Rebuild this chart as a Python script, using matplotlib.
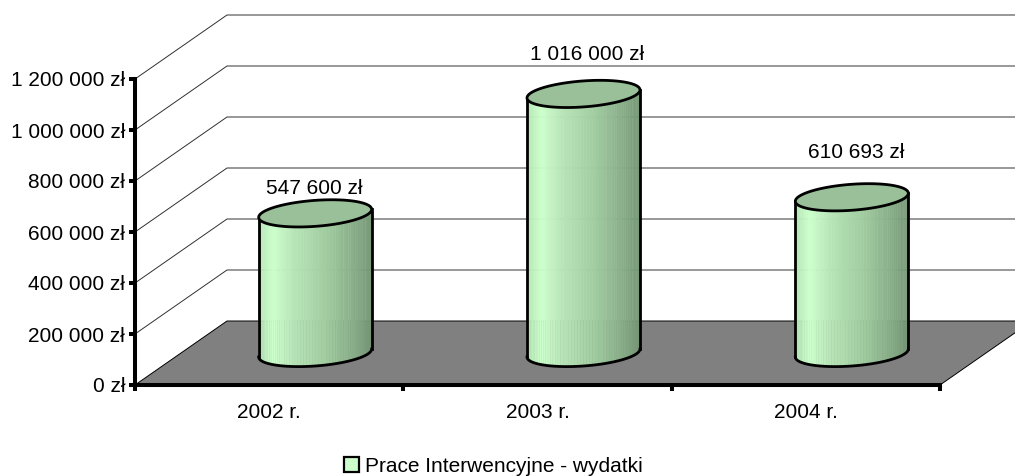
import numpy as np
import matplotlib.pyplot as plt
from matplotlib.colors import LinearSegmentedColormap
from matplotlib.patches import Patch, Polygon

categories = ['2002 r.', '2003 r.', '2004 r.']
values = [547600, 1016000, 610693]
value_labels = ['547 600 zł', '1 016 000 zł', '610 693 zł']
y_ticks = [0, 200000, 400000, 600000, 800000, 1000000, 1200000]
y_tick_labels = ['0 zł', '200 000 zł', '400 000 zł', '600 000 zł', '800 000 zł',
                 '1 000 000 zł', '1 200 000 zł']
series_name = 'Prace Interwencyjne - wydatki'

# label offsets above the cylinder top, pixels (x, y)
label_offsets = [(-1, 25), (4, 39), (4, 45)]

W, H = 1015, 476
plt.rcParams['font.family'] = ['Liberation Sans', 'DejaVu Sans']
FONT = 15

fig = plt.figure(figsize=(W / 100, H / 100), dpi=100)
ax = fig.add_axes([135 / W, (H - 385) / H, 805 / W, 306 / H])
ax.set_xlim(0, 3)
ax.set_ylim(0, 1200000)

# one pixel in data units
px_x = 3 / 805
px_y = 1200000 / 306
depth_x = 92 * px_x
depth_y = 64 * px_y

# floor and grid lines of the fake 3d box
floor = Polygon([(0, 0), (depth_x, depth_y), (3 + depth_x, depth_y), (3, 0)],
                closed=True, facecolor='#808080', edgecolor='black', lw=0.7,
                clip_on=False, zorder=1)
ax.add_patch(floor)
for v in y_ticks[1:]:
    ax.plot([0, depth_x, 3 + depth_x], [v, v + depth_y, v + depth_y],
            color='#303030', lw=0.7, clip_on=False, zorder=1)

body_cmap = LinearSegmentedColormap.from_list(
    'body', [(0, '#b4e6b4'), (0.13, '#ccffcc'), (0.3, '#b9e6b9'),
             (0.6, '#a0cca0'), (0.85, '#88ad88'), (1, '#759675')])
top_color = '#99c099'
edge_w = 2.0

a = 56.5
b = 13.0
k = 4.0
t = np.linspace(0, 2 * np.pi, 121)
ex = a * np.cos(t) * px_x
ey = (b * np.sin(t) + k * np.cos(t)) * px_y
t_low = np.linspace(np.pi, 2 * np.pi, 61)
lx = a * np.cos(t_low) * px_x
ly = (b * np.sin(t_low) + k * np.cos(t_low)) * px_y

for i, val in enumerate(values):
    cx = i + 0.5 + depth_x / 2
    cy = depth_y / 2
    # body as vertical strips, light on the left and dark on the right
    for j in range(len(lx) - 1):
        xs = [cx + lx[j], cx + lx[j + 1], cx + lx[j + 1], cx + lx[j]]
        ys = [cy + ly[j], cy + ly[j + 1], cy + val + ly[j + 1], cy + val + ly[j]]
        pos = (lx[j] + lx[j + 1]) / 2 / (2 * a * px_x) + 0.5
        ax.fill(xs, ys, color=body_cmap(pos), lw=0.3, clip_on=False, zorder=2)
    ax.plot(cx + lx, cy + ly, color='black', lw=edge_w, clip_on=False, zorder=3)
    ax.plot([cx - a * px_x] * 2, [cy - k * px_y, cy + val - k * px_y], color='black',
            lw=edge_w, clip_on=False, zorder=3)
    ax.plot([cx + a * px_x] * 2, [cy + k * px_y, cy + val + k * px_y], color='black',
            lw=edge_w, clip_on=False, zorder=3)
    ax.fill(cx + ex, cy + val + ey, facecolor=top_color, edgecolor='black', lw=edge_w,
            clip_on=False, zorder=4)
    ax.annotate(value_labels[i], (cx, cy + val),
                xytext=(label_offsets[i][0] * 0.72, label_offsets[i][1] * 0.72),
                textcoords='offset points', ha='center', va='center', fontsize=FONT,
                zorder=5)

# axes
for s in ['top', 'right']:
    ax.spines[s].set_visible(False)
for s in ['left', 'bottom']:
    ax.spines[s].set_linewidth(2.9)
    ax.spines[s].set_zorder(6)
ax.patch.set_visible(False)
ax.set_yticks(y_ticks)
ax.set_yticklabels(y_tick_labels, fontsize=FONT)
ax.set_xticks([0, 1, 2, 3])
ax.set_xticklabels([])
ax.set_xticks([0.5, 1.5, 2.5], minor=True)
ax.set_xticklabels(categories, minor=True, fontsize=FONT)
ax.tick_params(axis='y', length=4.5, width=2.9, pad=2.6)
ax.tick_params(axis='x', which='major', length=4.5, width=2.9)
ax.tick_params(axis='x', which='minor', length=0, pad=13)

handle = Patch(facecolor='#ccffcc', edgecolor='black', lw=1.6)
fig.legend([handle], [series_name], loc='center', ncol=1, frameon=False, fontsize=FONT,
           bbox_to_anchor=(493 / W, (H - 466) / H), handlelength=0.75, handleheight=0.75,
           handletextpad=0.25, borderpad=0)

fig.savefig('out.png', dpi=100)
